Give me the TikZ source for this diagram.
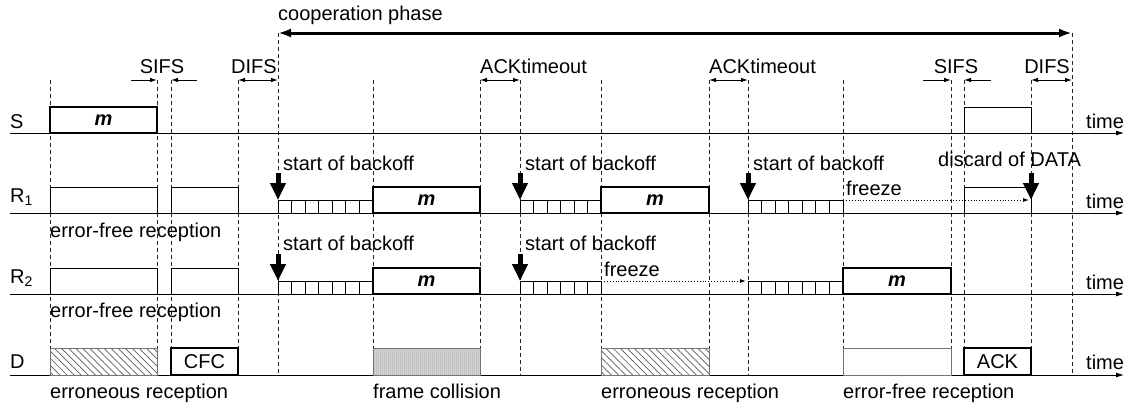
\documentclass[tikz,border=0pt]{standalone}
\usepackage{fontspec}
\setmainfont{Liberation Sans}
\usetikzlibrary{arrows.meta,patterns.meta}
\begin{document}
\begin{tikzpicture}[x=1pt,y=-1pt,
  font=\fontsize{20}{24}\selectfont,
  lbl/.style={inner sep=0pt, anchor=base west},
  lblc/.style={inner sep=0pt, anchor=base},
  lble/.style={inner sep=0pt, anchor=base east},
  axis/.style={line width=0.9pt, -{Latex[length=8pt,width=5pt]}},
  guide/.style={line width=0.8pt, dash pattern=on 4pt off 3pt, black!85},
  thinbox/.style={draw, line width=1pt},
  thickbox/.style={draw, line width=2.6pt},
  graybox/.style={draw=black!55, line width=1pt},
  hatch/.style={graybox, pattern={Lines[angle=-45,distance=5pt,line width=0.7pt]}, pattern color=black!65},
  dotfill/.style={graybox, pattern={Dots[distance=2pt,radius=0.5pt]}, pattern color=black!70},
  dotbg/.style={fill=black!12},
  slot/.style={draw, line width=0.9pt},
  bigarrow/.style={line width=5pt, -{Triangle[length=17pt,width=15pt]}},
  dimarrow/.style={line width=0.9pt, {Latex[length=7pt,width=4.5pt]}-{Latex[length=7pt,width=4.5pt]}},
  onearrow/.style={line width=0.9pt, -{Latex[length=7pt,width=4.5pt]}},
  freezearrow/.style={line width=0.9pt, dotted, -{Latex[length=6pt,width=4pt]}},
  phase/.style={line width=3pt, {Latex[length=13pt,width=9pt]}-{Latex[length=13pt,width=9pt]}},
  mtext/.style={font=\fontsize{20}{24}\selectfont\bfseries\itshape},
]
\useasboundingbox (0,0) rectangle (1125,407);

% vertical guide lines
\foreach \x/\t [count=\i] in {50/80,157/80,171/80,238/80,278/33,373/80,480/80,520/80,601/80,709/80,748/80,843/80,951/80,964/80,1031/80,1072/33}{
  \coordinate (g\i t) at (\x,\t);
  \coordinate (g\i b) at (\x,375);
  \draw[guide] (g\i t) -- (g\i b);
}

% time axes
\foreach \n/\y in {S/133,RA/213,RB/294,D/375}{
  \coordinate (\n a) at (10,\y);
  \coordinate (\n z) at (1124,\y);
  \draw[axis] (\n a) -- (\n z);
}

% row labels
\node[lbl] (lS) at (10,128) {S};
\node[lbl] (lR1) at (10,202) {R\textsubscript{1}};
\node[lbl] (lR2) at (10,283) {R\textsubscript{2}};
\node[lbl] (lD) at (10,368) {D};
\node[lbl] (tS) at (1086,128) {time};
\node[lbl] (tR1) at (1086,208) {time};
\node[lbl] (tR2) at (1086,289) {time};
\node[lbl] (tD) at (1086,369) {time};

% top: cooperation phase
\node[lbl] (coop) at (278,20) {cooperation phase};
\draw[phase] (g5t) -- (g16t);

% interval labels
\node[lblc] (sifs1) at (162,73) {SIFS};
\node[lble] (difs1) at (277,73) {DIFS};
\node[lbl] (ackt1) at (480,73) {ACKtimeout};
\node[lbl] (ackt2) at (709,73) {ACKtimeout};
\node[lblc] (sifs2) at (956,73) {SIFS};
\node[lble] (difs2) at (1070,73) {DIFS};

\coordinate (sa1) at (131,80); \draw[onearrow] (sa1) -- (g2t);
\coordinate (sa2) at (197,80); \draw[onearrow] (sa2) -- (g3t);
\draw[dimarrow] (g4t) -- (278,80);
\draw[dimarrow] (g7t) -- (g8t);
\draw[dimarrow] (g10t) -- (g11t);
\coordinate (sa3) at (923,80); \draw[onearrow] (sa3) -- (g13t);
\coordinate (sa4) at (991,80); \draw[onearrow] (sa4) -- (g14t);
\draw[dimarrow] (g15t) -- (1072,80);

% ---------- S row ----------
\draw[thickbox] (50,133) rectangle node[mtext] {m} (157,107);
\draw[thinbox] (964,133) rectangle (1031,107);

% ---------- R1 row ----------
\draw[thinbox] (50,213) rectangle (157,187);
\draw[thinbox] (171,213) rectangle (238,187);
\foreach \i in {0,...,6} \draw[slot] ({278+\i*95/7},213) rectangle ++({95/7},-13);
\draw[thickbox] (373,213) rectangle node[mtext] {m} (480,187);
\foreach \i in {0,...,5} \draw[slot] ({520+\i*13.5},213) rectangle ++(13.5,-13);
\draw[thickbox] (601,213) rectangle node[mtext] {m} (709,187);
\foreach \i in {0,...,6} \draw[slot] ({748+\i*95/7},213) rectangle ++({95/7},-13);
\draw[thinbox] (964,213) rectangle (1031,187);

\foreach \x [count=\i] in {278,520,748}{
  \coordinate (ra\i) at (\x,173); \coordinate (rb\i) at (\x,200);
  \draw[bigarrow] (ra\i) -- (rb\i);
  \node[lbl] (sb1\i) at (\x+5,170) {start of backoff};
}
\coordinate (dA) at (1031,173); \coordinate (dB) at (1031,200);
\draw[bigarrow] (dA) -- (dB);
\node[lbl] (disc) at (938,166) {discard of DATA};
\node[lbl] (frz1) at (846,195) {freeze};
\coordinate (f1a) at (843,200); \coordinate (f1b) at (1029,200);
\draw[freezearrow] (f1a) -- (f1b);
\node[lbl] (efr1) at (50,237) {error-free reception};

% ---------- R2 row ----------
\draw[thinbox] (50,294) rectangle (157,268);
\draw[thinbox] (171,294) rectangle (238,268);
\foreach \i in {0,...,6} \draw[slot] ({278+\i*95/7},294) rectangle ++({95/7},-13);
\draw[thickbox] (373,294) rectangle node[mtext] {m} (480,268);
\foreach \i in {0,...,5} \draw[slot] ({520+\i*13.5},294) rectangle ++(13.5,-13);
\foreach \i in {0,...,6} \draw[slot] ({748+\i*95/7},294) rectangle ++({95/7},-13);
\draw[thickbox] (843,294) rectangle node[mtext] {m} (951,268);

\foreach \x [count=\i] in {278,520}{
  \coordinate (qa\i) at (\x,254); \coordinate (qb\i) at (\x,281);
  \draw[bigarrow] (qa\i) -- (qb\i);
  \node[lbl] (sb2\i) at (\x+5,250) {start of backoff};
}
\node[lbl] (frz2) at (604,276) {freeze};
\coordinate (f2a) at (601,281); \coordinate (f2b) at (746,281);
\draw[freezearrow] (f2a) -- (f2b);
\node[lbl] (efr2) at (50,317) {error-free reception};

% ---------- D row ----------
\draw[hatch] (50,375) rectangle (157,348);
\draw[thickbox] (171,375) rectangle node {CFC} (238,348);
\fill[dotbg] (373,375) rectangle (480,348);
\draw[dotfill] (373,375) rectangle (480,348);
\draw[hatch] (601,375) rectangle (709,348);
\draw[graybox] (843,375) rectangle (951,348);
\draw[thickbox] (964,375) rectangle node {ACK} (1031,348);

\node[lbl] (dl1) at (50,398) {erroneous reception};
\node[lbl] (dl2) at (373,398) {frame collision};
\node[lbl] (dl3) at (601,398) {erroneous reception};
\node[lbl] (dl4) at (843,398) {error-free reception};
\end{tikzpicture}
\end{document}
